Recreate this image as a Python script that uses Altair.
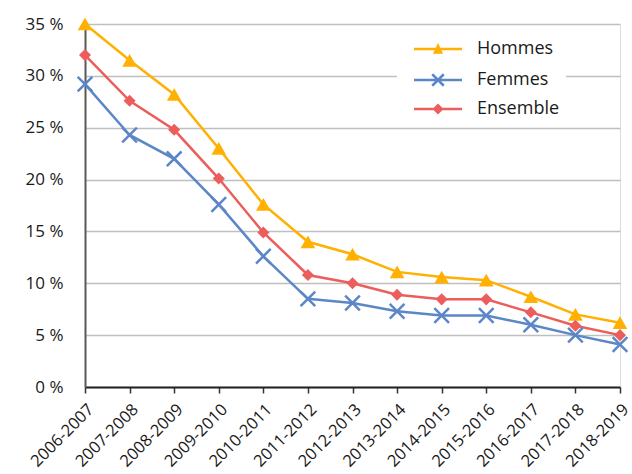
import altair as alt
import pandas as pd

# School years on the x axis
annees = [
    "2006-2007", "2007-2008", "2008-2009", "2009-2010", "2010-2011",
    "2011-2012", "2012-2013", "2013-2014", "2014-2015", "2015-2016",
    "2016-2017", "2017-2018", "2018-2019",
]

# Rates in percent for each series
hommes = [35.0, 31.5, 28.2, 23.0, 17.6, 14.0, 12.8, 11.1, 10.6, 10.3, 8.7, 7.0, 6.2]
femmes = [29.2, 24.3, 22.0, 17.6, 12.6, 8.5, 8.1, 7.3, 6.9, 6.9, 6.0, 5.0, 4.1]
ensemble = [32.0, 27.6, 24.8, 20.1, 14.9, 10.8, 10.0, 8.9, 8.45, 8.45, 7.2, 5.9, 5.0]

series = ["Hommes", "Femmes", "Ensemble"]
couleurs = ["#FFB000", "#5B87C8", "#EB5E5C"]
couleur = dict(zip(series, couleurs))

# Drawing order: Hommes at the back, Femmes on top
rows = []
for nom, vals in [("Hommes", hommes), ("Ensemble", ensemble), ("Femmes", femmes)]:
    for a, v in zip(annees, vals):
        rows.append({"annee": a, "taux": v, "serie": nom})
df = pd.DataFrame(rows)

FONT = "Open Sans"

x_enc = alt.X(
    "annee:N",
    sort=annees,
    scale=alt.Scale(type="point", padding=0),
    axis=alt.Axis(
        title=None,
        labelAngle=-45,
        labelAlign="right",
        labelBaseline="top",
        labelFont=FONT,
        labelFontSize=16.5,
        labelColor="#1a1a1a",
        labelPadding=8,
        tickSize=6,
        tickColor="#333333",
        tickWidth=1.5,
        domainColor="#222222",
        domainWidth=2,
        grid=False,
    ),
)
y_enc = alt.Y(
    "taux:Q",
    scale=alt.Scale(domain=[0, 35], nice=False),
    axis=alt.Axis(
        title=None,
        values=[0, 5, 10, 15, 20, 25, 30, 35],
        labelExpr="datum.value + ' %'",
        labelFont=FONT,
        labelFontSize=17,
        labelColor="#1a1a1a",
        labelPadding=22,
        ticks=False,
        domainColor="#595959",
        domainWidth=2,
        grid=True,
        gridColor="#BFBFBF",
        gridWidth=1.5,
    ),
)

color_scale = alt.Scale(domain=series, range=couleurs)
color_enc = alt.Color("serie:N", scale=color_scale, legend=None)

lines = alt.Chart(df).mark_line(strokeWidth=2.5).encode(
    x=x_enc, y=y_enc, color=color_enc, detail="serie:N"
)

tri_pts = alt.Chart(df).transform_filter(alt.datum.serie == "Hommes").mark_point(
    shape="triangle-up", filled=True, size=215, opacity=1
).encode(x=x_enc, y=y_enc, color=color_enc)

dia_pts = alt.Chart(df).transform_filter(alt.datum.serie == "Ensemble").mark_point(
    shape="diamond", filled=True, size=145, opacity=1
).encode(x=x_enc, y=y_enc, color=color_enc)

cross_pts = alt.Chart(df).transform_filter(alt.datum.serie == "Femmes").mark_point(
    shape="M-1,-1L1,1M-1,1L1,-1", filled=False, size=215, strokeWidth=2.5, opacity=1
).encode(x=x_enc, y=y_enc, color=color_enc)

# Legend symbols: a line with the series marker in the middle, all as filled outlines
LINE = "M-1,-0.052H1V0.052H-1Z"
leg_paths = {
    "Hommes": LINE + "M-0.21,0.2L0,-0.25L0.21,0.2Z",
    "Femmes": LINE
    + "M0.277,0.203L0.203,0.277L-0.277,-0.203L-0.203,-0.277Z"
    + "M-0.277,0.203L0.203,-0.277L0.277,-0.203L-0.203,0.277Z",
    "Ensemble": LINE + "M0,-0.23L0.23,0L0,0.23L-0.23,0Z",
}
# legend placement (x, y, padding, white background)
leg_pos = {
    "Hommes": (329, 16, 0, None),
    "Femmes": (312, 30, 17, "white"),
    "Ensemble": (329, 76, 0, None),
}


def legend_layer(nom):
    lx, ly, pad, fill = leg_pos[nom]
    kw = dict(
        title=None,
        orient="none",
        legendX=lx,
        legendY=ly,
        padding=pad,
        symbolSize=2304,
        symbolOpacity=1,
        symbolFillColor=couleur[nom],
        symbolStrokeWidth=0,
        labelFont=FONT,
        labelFontSize=18,
        labelColor="#1a1a1a",
        labelOffset=15,
        clipHeight=18,
        zindex=1 if fill is None else 0,
    )
    if fill:
        kw["fillColor"] = fill
    return alt.Chart(df).transform_filter(alt.datum.serie == nom).mark_point(
        filled=True, opacity=0, color=couleur[nom]
    ).encode(
        x=x_enc,
        y=y_enc,
        shape=alt.Shape(
            "serie:N",
            scale=alt.Scale(domain=[nom], range=[leg_paths[nom]]),
            legend=alt.Legend(**kw),
        ),
    )


chart = alt.layer(
    lines, tri_pts, dia_pts, cross_pts,
    legend_layer("Hommes"), legend_layer("Femmes"), legend_layer("Ensemble"),
).resolve_scale(shape="independent").resolve_legend(shape="independent").properties(
    width=535,
    height=363,
    autosize=alt.AutoSizeParams(type="none"),
    padding={"left": 85, "top": 24, "right": 12, "bottom": 87},
).configure_view(stroke=None).configure(background="white")

chart.save("out.html", embed_options={"renderer": "svg", "actions": False})
